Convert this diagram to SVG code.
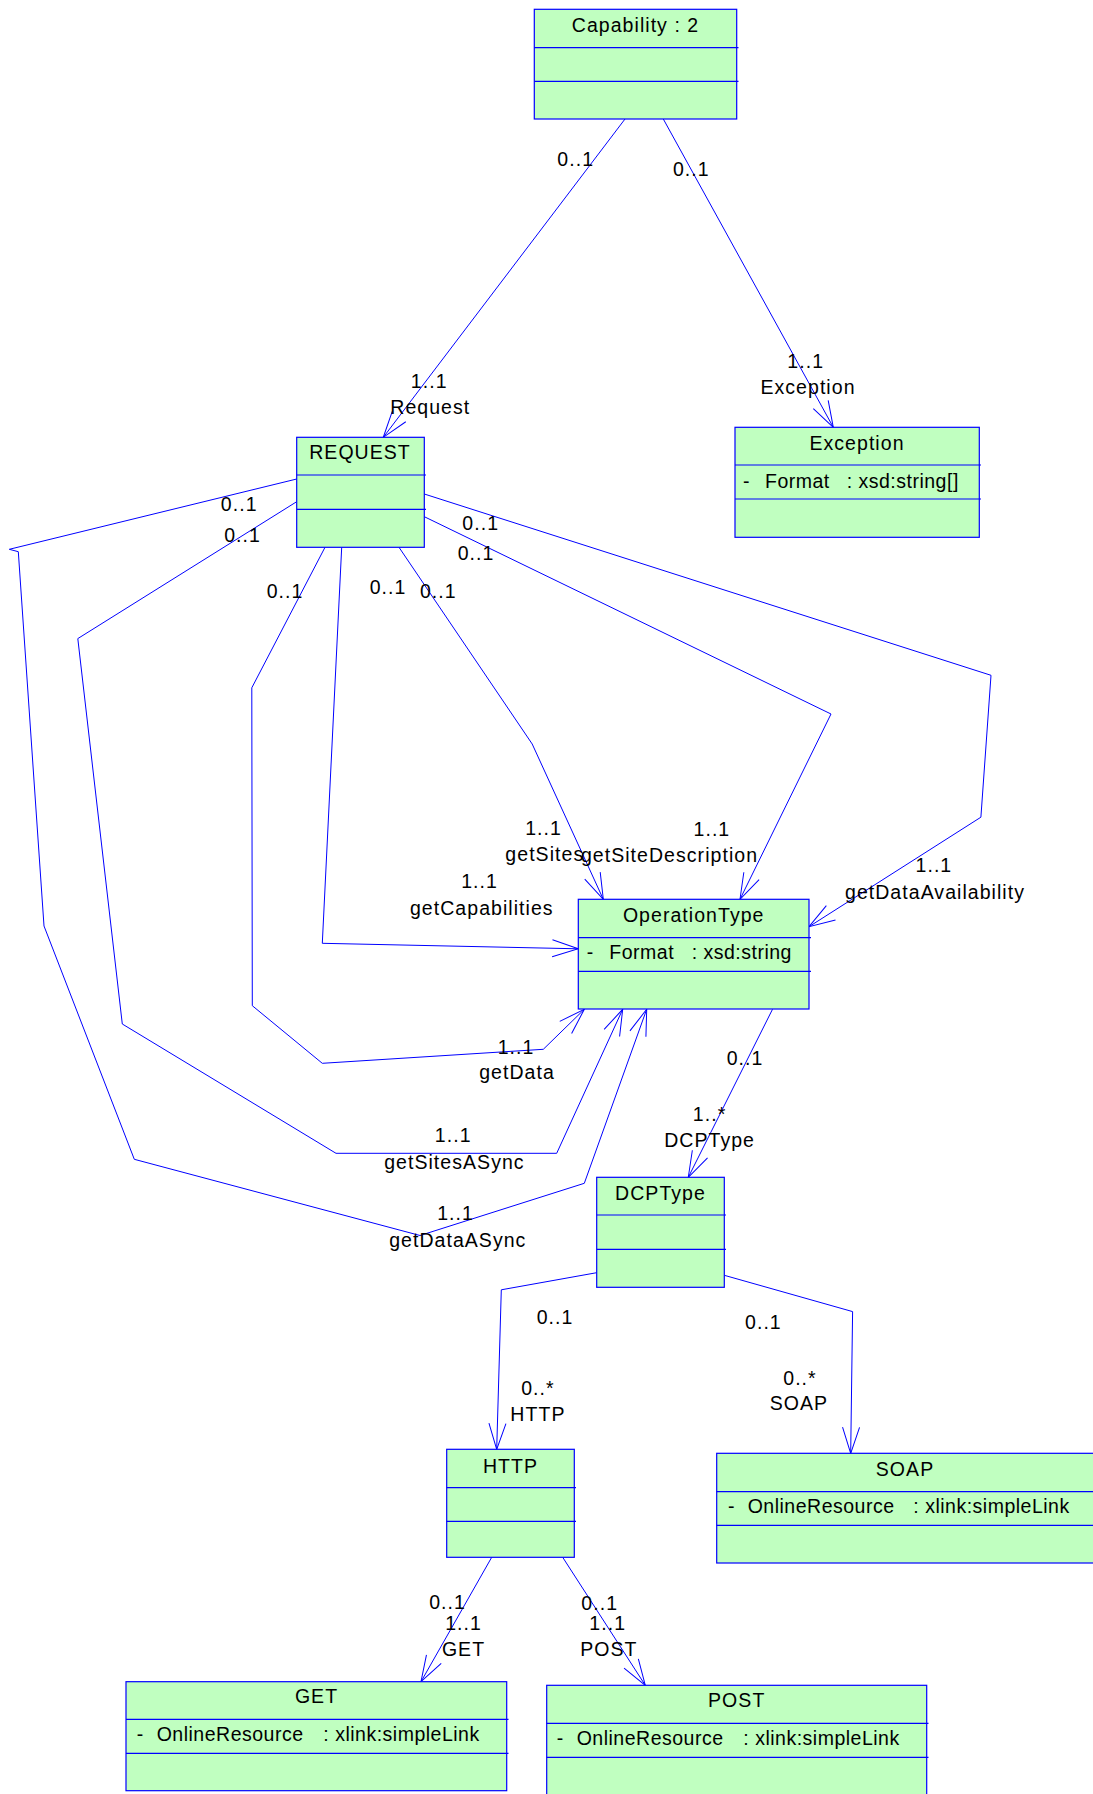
<svg xmlns="http://www.w3.org/2000/svg" width="1093" height="1794" viewBox="0 0 1093 1794">
<style>
.box{fill:#c0ffc0;stroke:#0000ff;stroke-width:1.2}
.sep{stroke:#0000ff;stroke-width:1.2}
.t{font-family:"Liberation Sans",Arial,sans-serif;font-size:19.5px;letter-spacing:0.5px;fill:#000}
.c{text-anchor:middle;letter-spacing:1.05px}
.ln{fill:none;stroke:#0000ff;stroke-width:1}
</style>
<defs>
<marker id="arr" viewBox="-30 -12 32 24" refX="0" refY="0" markerWidth="32" markerHeight="24" orient="auto" markerUnits="userSpaceOnUse" overflow="visible">
<path d="M-26,-8.5 L0,0 L-26,8.5" fill="none" stroke="#0000ff" stroke-width="1"/>
</marker>
</defs>
<rect width="1093" height="1794" fill="#fff"/>

<g id="connectors">
<polyline class="ln" marker-end="url(#arr)" points="625,119 383.3,437.3"/>
<polyline class="ln" marker-end="url(#arr)" points="663.3,119 833.3,427.3"/>
<polyline class="ln" marker-end="url(#arr)" points="296.7,479 9.3,549.3 18.3,551.7 44,926 134.3,1159.3 420,1235.5 584.3,1183.3 646.7,1009.3"/>
<polyline class="ln" marker-end="url(#arr)" points="296.7,501.7 77.8,638.6 122.3,1024 336,1153.3 556.7,1153.3 622.7,1009.3"/>
<polyline class="ln" marker-end="url(#arr)" points="325,547.3 251.8,687.8 252.3,1005.7 322.3,1063.3 543.3,1049.3 584.3,1009.3"/>
<polyline class="ln" marker-end="url(#arr)" points="341.7,547.3 322.3,943.3 578.3,948.8"/>
<polyline class="ln" marker-end="url(#arr)" points="399,547.3 532.2,744 603.3,899.3"/>
<polyline class="ln" marker-end="url(#arr)" points="424.3,516.7 831,714 740,899.3"/>
<polyline class="ln" marker-end="url(#arr)" points="424.3,494 991,675.3 980.9,817.2 809,926.7"/>
<polyline class="ln" marker-end="url(#arr)" points="772.5,1009.3 688.3,1177.3"/>
<polyline class="ln" marker-end="url(#arr)" points="596.7,1272.7 501.3,1289.8 496.7,1449.3"/>
<polyline class="ln" marker-end="url(#arr)" points="724.3,1275.3 852.6,1311.6 850.7,1453.3"/>
<polyline class="ln" marker-end="url(#arr)" points="491.7,1557.3 421,1681.7"/>
<polyline class="ln" marker-end="url(#arr)" points="562.7,1557.3 645.3,1685.3"/>

<g class="t c">
<text x="575.7" y="166">0..1</text>
<text x="429.2" y="388">1..1</text>
<text x="430.3" y="414">Request</text>
<text x="691.3" y="176">0..1</text>
<text x="805.7" y="367.5">1..1</text>
<text x="808" y="394">Exception</text>
<text x="239.2" y="510.6">0..1</text>
<text x="242.6" y="541.5">0..1</text>
<text x="285" y="597.6">0..1</text>
<text x="388" y="594">0..1</text>
<text x="438.3" y="597.6">0..1</text>
<text x="476.1" y="560">0..1</text>
<text x="480.7" y="530">0..1</text>
<text x="543.6" y="834.5">1..1</text>
<text x="544.8" y="861">getSites</text>
<text x="711.9" y="835.6">1..1</text>
<text x="669.5" y="862">getSiteDescription</text>
<text x="479.5" y="888.3">1..1</text>
<text x="481.8" y="914.6">getCapabilities</text>
<text x="933.9" y="872.2">1..1</text>
<text x="935" y="898.6">getDataAvailability</text>
<text x="516" y="1054">1..1</text>
<text x="517" y="1079.3">getData</text>
<text x="453.2" y="1142">1..1</text>
<text x="454.4" y="1168.7">getSitesASync</text>
<text x="455.5" y="1220">1..1</text>
<text x="457.8" y="1246.5">getDataASync</text>
<text x="745" y="1064.5">0..1</text>
<text x="709.6" y="1120.6">1..*</text>
<text x="709.6" y="1147">DCPType</text>
<text x="555.1" y="1324.3">0..1</text>
<text x="537.9" y="1395.3">0..*</text>
<text x="537.9" y="1420.5">HTTP</text>
<text x="763.4" y="1329">0..1</text>
<text x="800" y="1385">0..*</text>
<text x="798.9" y="1410">SOAP</text>
<text x="447.5" y="1609">0..1</text>
<text x="463.5" y="1630">1..1</text>
<text x="463.5" y="1656">GET</text>
<text x="599.7" y="1610.4">0..1</text>
<text x="607.7" y="1630">1..1</text>
<text x="608.9" y="1656">POST</text>
</g>
</g>

<g id="Capability">
<rect class="box" x="534.3" y="9.3" width="202.4" height="109.7"/>
<line class="sep" x1="534.3" y1="47.7" x2="738.5" y2="47.7"/>
<line class="sep" x1="534.3" y1="81.3" x2="738.5" y2="81.3"/>
<text class="t c" x="635.5" y="32">Capability : 2</text>
</g>

<g id="REQUEST">
<rect class="box" x="296.7" y="437.3" width="127.6" height="110"/>
<line class="sep" x1="296.7" y1="475" x2="426" y2="475"/>
<line class="sep" x1="296.7" y1="509.3" x2="426" y2="509.3"/>
<text class="t c" x="360" y="459">REQUEST</text>
</g>

<g id="Exception">
<rect class="box" x="735" y="427.3" width="244.3" height="110"/>
<line class="sep" x1="735" y1="465" x2="981" y2="465"/>
<line class="sep" x1="735" y1="499" x2="981" y2="499"/>
<text class="t c" x="857" y="450">Exception</text>
<text class="t" x="743" y="488">-</text>
<text class="t" x="765" y="488">Format</text>
<text class="t" x="846.7" y="488">: xsd:string[]</text>
</g>

<g id="OperationType">
<rect class="box" x="578.3" y="899.3" width="230.7" height="109.7"/>
<line class="sep" x1="578.3" y1="937.7" x2="811" y2="937.7"/>
<line class="sep" x1="578.3" y1="971.3" x2="811" y2="971.3"/>
<text class="t c" x="693.7" y="921.7">OperationType</text>
<text class="t" x="586.7" y="959">-</text>
<text class="t" x="609.3" y="959">Format</text>
<text class="t" x="691.7" y="959">: xsd:string</text>
</g>

<g id="DCPType">
<rect class="box" x="596.7" y="1177.3" width="127.6" height="110"/>
<line class="sep" x1="596.7" y1="1215" x2="726" y2="1215"/>
<line class="sep" x1="596.7" y1="1249.3" x2="726" y2="1249.3"/>
<text class="t c" x="660.5" y="1200">DCPType</text>
</g>

<g id="HTTP">
<rect class="box" x="446.7" y="1449.3" width="127.6" height="108"/>
<line class="sep" x1="446.7" y1="1487.7" x2="576" y2="1487.7"/>
<line class="sep" x1="446.7" y1="1521.3" x2="576" y2="1521.3"/>
<text class="t c" x="510.5" y="1472.7">HTTP</text>
</g>

<g id="SOAP">
<rect class="box" x="716.7" y="1453.3" width="380" height="109.7"/>
<line class="sep" x1="716.7" y1="1491.7" x2="1096" y2="1491.7"/>
<line class="sep" x1="716.7" y1="1525.3" x2="1096" y2="1525.3"/>
<text class="t c" x="905" y="1476">SOAP</text>
<text class="t" x="728" y="1512.7">-</text>
<text class="t" x="747.7" y="1512.7">OnlineResource</text>
<text class="t" x="913.3" y="1512.7">: xlink:simpleLink</text>
</g>

<g id="GET">
<rect class="box" x="126" y="1681.7" width="380.7" height="109"/>
<line class="sep" x1="126" y1="1719.3" x2="508.5" y2="1719.3"/>
<line class="sep" x1="126" y1="1753.3" x2="508.5" y2="1753.3"/>
<text class="t c" x="316.5" y="1703.3">GET</text>
<text class="t" x="136.7" y="1741">-</text>
<text class="t" x="156.7" y="1741">OnlineResource</text>
<text class="t" x="323.3" y="1741">: xlink:simpleLink</text>
</g>

<g id="POST">
<rect class="box" x="546.7" y="1685.3" width="380" height="120"/>
<line class="sep" x1="546.7" y1="1723.3" x2="928.5" y2="1723.3"/>
<line class="sep" x1="546.7" y1="1757.3" x2="928.5" y2="1757.3"/>
<text class="t c" x="736.7" y="1707.3">POST</text>
<text class="t" x="556.7" y="1745">-</text>
<text class="t" x="576.7" y="1745">OnlineResource</text>
<text class="t" x="743.3" y="1745">: xlink:simpleLink</text>
</g>
</svg>
